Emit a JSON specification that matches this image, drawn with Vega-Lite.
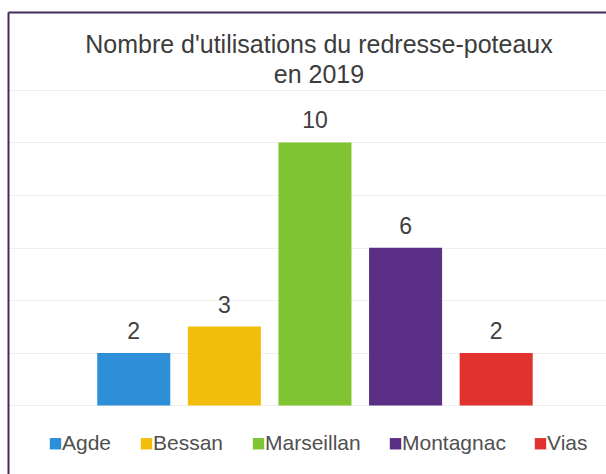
{
  "$schema": "https://vega.github.io/schema/vega-lite/v6.json",
  "width": 598,
  "height": 462,
  "autosize": {"type": "none"},
  "padding": {"left": 8, "top": 12, "right": 0, "bottom": 0},
  "background": "white",
  "title": {
    "text": ["Nombre d'utilisations du redresse-poteaux", "en 2019"],
    "font": "Liberation Sans",
    "fontSize": 25,
    "fontWeight": "normal",
    "color": "#3c3c3c",
    "lineHeight": 30,
    "anchor": "middle",
    "frame": "group",
    "baseline": "alphabetic",
    "offset": 0,
    "dx": 12,
    "dy": 96
  },
  "data": {
    "values": [
      {"commune": "Agde", "utilisations": 2},
      {"commune": "Bessan", "utilisations": 3},
      {"commune": "Marseillan", "utilisations": 10},
      {"commune": "Montagnac", "utilisations": 6},
      {"commune": "Vias", "utilisations": 2}
    ]
  },
  "encoding": {
    "x": {
      "field": "commune",
      "type": "nominal",
      "sort": null,
      "scale": {"paddingInner": 0.194, "paddingOuter": 0.897, "align": 0.549},
      "axis": {
        "orient": "top",
        "title": null,
        "labels": false,
        "ticks": false,
        "grid": false,
        "domain": true,
        "domainColor": "#46295f",
        "domainWidth": 2
      }
    },
    "y": {
      "field": "utilisations",
      "type": "quantitative",
      "scale": {"domain": [-2.605, 14.962], "nice": false, "zero": false},
      "axis": {
        "orient": "left",
        "title": null,
        "labels": false,
        "ticks": false,
        "values": [0, 2, 4, 6, 8, 10, 12],
        "grid": true,
        "gridColor": "#efefef",
        "gridWidth": 1,
        "domain": true,
        "domainColor": "#46295f",
        "domainWidth": 2
      }
    }
  },
  "layer": [
    {
      "mark": {"type": "bar"},
      "encoding": {
        "y2": {"datum": 0},
        "color": {
          "field": "commune",
          "type": "nominal",
          "scale": {
            "domain": ["Agde", "Bessan", "Marseillan", "Montagnac", "Vias"],
            "range": ["#2E8FD8", "#F2BD0C", "#80C431", "#5B2F86", "#E0332F"]
          },
          "legend": {
            "title": null,
            "orient": "none",
            "legendX": 37,
            "legendY": 421,
            "direction": "horizontal",
            "columns": 5,
            "padding": 0,
            "symbolType": "square",
            "symbolSize": 130,
            "symbolStrokeWidth": 0,
            "symbolOpacity": 1,
            "labelFont": "Liberation Sans",
            "labelFontSize": 21,
            "labelColor": "#505050",
            "labelOffset": -4,
            "columnPadding": 24
          }
        }
      }
    },
    {
      "mark": {
        "type": "text",
        "baseline": "alphabetic",
        "dy": -14,
        "font": "Liberation Sans",
        "fontSize": 23,
        "color": "#404040"
      },
      "encoding": {
        "text": {"field": "utilisations", "type": "quantitative"}
      }
    }
  ],
  "config": {
    "view": {"stroke": null}
  }
}
